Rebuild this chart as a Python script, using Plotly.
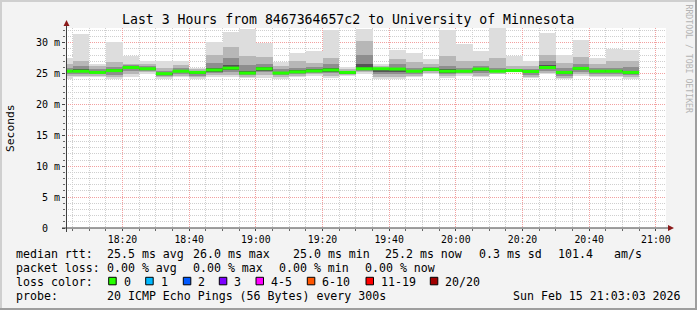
import plotly.graph_objects as go
import pandas as pd

# ---------------- data (milliseconds) ----------------
interval_end = list(pd.date_range("2026-02-15 18:05", "2026-02-15 20:55", freq="5min"))

rtt_max = [27.6, 31.5, 26.5, 30.2, 27.9, 27.0, 27.1, 27.0, 26.0, 30.1,
           31.7, 32.3, 30.0, 26.9, 28.3, 28.75, 32.1, 26.1, 32.3, 26.5,
           28.85, 28.3, 27.3, 32.1, 29.85, 28.6, 32.4, 27.9, 27.0, 31.6,
           28.0, 30.4, 27.6, 29.0, 28.9]
rtt_p90 = [26.6, 27.0, 26.2, 26.9, 26.6, 26.5, 26.0, 26.4, 25.8, 28.1,
           29.4, 27.8, 27.7, 26.2, 27.0, 26.8, 27.6, 25.8, 30.3, 26.2,
           27.3, 26.9, 26.5, 27.8, 27.0, 27.0, 27.5, 26.3, 26.2, 28.0,
           26.8, 27.7, 26.5, 27.0, 27.0]
rtt_p75 = [26.0, 26.2, 25.8, 26.1, 26.4, 26.2, 25.5, 25.9, 25.5, 26.8,
           27.5, 26.4, 26.6, 25.7, 26.0, 26.1, 26.5, 25.5, 28.0, 26.0,
           26.5, 26.0, 26.1, 26.3, 26.0, 26.3, 26.0, 25.8, 25.8, 27.0,
           25.9, 26.6, 25.9, 26.0, 26.1]
rtt_p60 = [25.6, 25.7, 25.4, 25.7, 26.2, 25.95, 25.15, 25.6, 25.35, 26.0,
           26.4, 25.5, 26.1, 25.3, 25.55, 25.7, 25.9, 25.35, 26.6, 25.9,
           26.0, 25.6, 25.85, 25.7, 25.6, 25.95, 25.6, 25.6, 25.5, 26.4,
           25.45, 26.1, 25.6, 25.65, 25.5]
rtt_median = [25.4, 25.4, 25.2, 25.5, 26.0, 25.8, 25.0, 25.4, 25.2, 25.6,
              25.9, 25.1, 25.8, 25.1, 25.3, 25.45, 25.6, 25.2, 25.8, 25.8,
              25.75, 25.4, 25.7, 25.4, 25.4, 25.75, 25.4, 25.5, 25.35, 26.0,
              25.2, 25.85, 25.4, 25.4, 25.2]
rtt_p40 = [25.2, 25.2, 25.05, 25.2, 25.8, 25.65, 24.8, 25.2, 24.95, 25.35,
           25.55, 24.95, 25.5, 24.95, 25.1, 25.3, 25.35, 25.05, 25.65, 25.3,
           25.3, 25.2, 25.55, 25.15, 25.25, 25.45, 25.3, 25.4, 25.05, 25.7,
           24.9, 25.55, 25.2, 25.2, 25.0]
rtt_p25 = [25.0, 25.0, 24.9, 24.8, 25.5, 25.5, 24.6, 25.0, 24.7, 25.1,
           25.2, 24.8, 25.2, 24.8, 24.9, 25.1, 25.1, 24.9, 25.5, 24.9,
           24.9, 25.0, 25.4, 24.9, 25.1, 25.1, 25.2, 25.3, 24.8, 25.4,
           24.6, 25.3, 25.0, 25.0, 24.8]
rtt_p10 = [24.7, 24.7, 24.6, 24.5, 24.9, 25.2, 24.4, 24.7, 24.4, 24.8,
           24.8, 24.5, 24.8, 24.5, 24.6, 24.9, 24.7, 24.8, 25.2, 24.5,
           24.5, 24.7, 25.1, 24.6, 24.9, 24.7, 25.0, 25.25, 24.5, 25.1,
           24.3, 25.0, 24.7, 24.7, 24.5]
rtt_min = [24.2, 24.4, 24.4, 24.2, 24.4, 24.9, 24.2, 24.4, 24.1, 24.5,
           24.4, 24.3, 24.3, 24.2, 24.4, 24.7, 24.3, 24.7, 24.9, 24.2,
           24.1, 24.5, 24.9, 24.3, 24.7, 24.4, 24.9, 25.2, 24.3, 24.9,
           24.1, 24.7, 24.4, 24.5, 24.2]

x_tickvals = ["2026-02-15 18:20", "2026-02-15 18:40", "2026-02-15 19:00",
              "2026-02-15 19:20", "2026-02-15 19:40", "2026-02-15 20:00",
              "2026-02-15 20:20", "2026-02-15 20:40", "2026-02-15 21:00"]
x_ticktext = ["18:20", "18:40", "19:00", "19:20", "19:40", "20:00", "20:20", "20:40", "21:00"]
y_tickvals = [0, 5, 10, 15, 20, 25, 30]
y_ticktext = ["0\u00a0\u00a0", "5 m", "10 m", "15 m", "20 m", "25 m", "30 m"]

title_text = "Last 3 Hours from 8467364657c2 to University of Minnesota"
median_stats = ["median rtt:", "25.5 ms avg", "26.0 ms max", "25.0 ms min",
                "25.2 ms now", "0.3 ms sd", "101.4", "am/s"]
loss_stats = ["packet loss:", "0.00 % avg", "0.00 % max", "0.00 % min", "0.00 % now"]
loss_labels = ["0", "1", "2", "3", "4-5", "6-10", "11-19", "20/20"]
loss_colors = ["#26ff00", "#00b8ff", "#0059ff", "#7e00ff", "#ff00ff", "#ff5500", "#ff0000", "#a10000"]
probe_text = "20 ICMP Echo Pings (56 Bytes) every 300s"
stamp_text = "Sun Feb 15 21:03:03 2026"

# ---------------- layout geometry ----------------
W, H = 697, 310
ML, MR, MT, MB = 66, 31, 28, 82
PW, PH = W - ML - MR, H - MT - MB
BOT = MT + PH


def px(x):
    return (x - ML) / PW


def py(y):
    return (BOT - y) / PH


MONO = "DejaVu Sans Mono"
step = pd.Timedelta("5min")
centers = [t - step / 2 for t in interval_end]
starts = [t - step for t in interval_end]

fig = go.Figure()

bands = [(rtt_min, rtt_max, "#dddddd"),
         (rtt_p10, rtt_p90, "#b7b7b7"),
         (rtt_p25, rtt_p75, "#8e8e8e"),
         (rtt_p40, rtt_p60, "#555555")]
for lo, hi, col in bands:
    fig.add_trace(go.Bar(
        x=centers, y=[h - l for l, h in zip(lo, hi)], base=lo,
        width=300000, marker=dict(color=col, line=dict(width=0)),
        showlegend=False, hoverinfo="skip"))

mx, my = [], []
for s, e, m in zip(starts, interval_end, rtt_median):
    mx += [s, e, None]
    my += [m, m, None]
fig.add_trace(go.Scatter(x=mx, y=my, mode="lines",
                         line=dict(color="#26ff00", width=3),
                         showlegend=False, hoverinfo="skip"))

fig.update_layout(
    width=W, height=H,
    margin=dict(l=ML, r=MR, t=MT, b=MB, pad=0),
    paper_bgcolor="#f3f3f3", plot_bgcolor="#ffffff",
    barmode="overlay", bargap=0,
    font=dict(family=MONO, size=10, color="#000000"),
    showlegend=False,
)

fig.update_xaxes(
    type="date",
    range=["2026-02-15 18:03:03", "2026-02-15 21:03:03"],
    tickmode="array", tickvals=x_tickvals, ticktext=x_ticktext,
    tickfont=dict(family=MONO, size=9.8, color="#000000"),
    showgrid=True, gridcolor="#f2a0a0", griddash="1px,1px", gridwidth=1,
    ticks="outside", ticklen=2, tickcolor="#444444",
    minor=dict(tickmode="linear", tick0="2026-02-15 18:00", dtick=300000,
               showgrid=True, gridcolor="#cfcfcf", griddash="1px,1px",
               ticks="outside", ticklen=2, tickcolor="#666666"),
    showline=False, zeroline=False,
)
fig.update_yaxes(
    range=[0, 32.4],
    tickmode="array", tickvals=y_tickvals, ticktext=y_ticktext,
    tickfont=dict(family=MONO, size=10, color="#000000"),
    showgrid=True, gridcolor="#f2a0a0", griddash="1px,1px", gridwidth=1,
    ticks="outside", ticklen=3, tickcolor="#444444",
    minor=dict(tickmode="linear", tick0=0, dtick=1,
               showgrid=True, gridcolor="#cfcfcf", griddash="1px,1px",
               ticks="outside", ticklen=2, tickcolor="#666666"),
    showline=False, zeroline=False,
)

shapes = []
# axis lines and arrows
shapes.append(dict(type="line", xref="paper", yref="paper",
                   x0=px(66.5), x1=px(66.5), y0=py(232), y1=py(23),
                   line=dict(color="#404040", width=1)))
shapes.append(dict(type="line", xref="paper", yref="paper",
                   x0=px(62), x1=px(671), y0=py(228), y1=py(228),
                   line=dict(color="#404040", width=1)))
shapes.append(dict(type="path", xref="paper", yref="paper",
                   path=f"M {px(63.5)} {py(26)} L {px(69.5)} {py(26)} L {px(66.5)} {py(20)} Z",
                   fillcolor="#8b1a1a", line=dict(width=0)))
shapes.append(dict(type="path", xref="paper", yref="paper",
                   path=f"M {px(668)} {py(225)} L {px(668)} {py(231)} L {px(674)} {py(228)} Z",
                   fillcolor="#8b1a1a", line=dict(width=0)))
# frame shading
shapes.append(dict(type="rect", xref="paper", yref="paper",
                   x0=px(0), x1=px(W), y0=py(0), y1=py(2),
                   fillcolor="#cfcfcf", line=dict(width=0)))
shapes.append(dict(type="rect", xref="paper", yref="paper",
                   x0=px(0), x1=px(2), y0=py(0), y1=py(H),
                   fillcolor="#cfcfcf", line=dict(width=0)))
shapes.append(dict(type="rect", xref="paper", yref="paper",
                   x0=px(0), x1=px(W), y0=py(H - 2), y1=py(H),
                   fillcolor="#9e9e9e", line=dict(width=0)))
shapes.append(dict(type="rect", xref="paper", yref="paper",
                   x0=px(W - 2), x1=px(W), y0=py(0), y1=py(H),
                   fillcolor="#9e9e9e", line=dict(width=0)))

ann = []


def text(x, y, s, size=11.6, anchor="left", color="#000000", angle=0):
    ann.append(dict(x=px(x), y=py(y), xref="paper", yref="paper", text=s,
                    showarrow=False, xanchor=anchor, yanchor="middle",
                    textangle=angle, borderpad=0, borderwidth=0,
                    font=dict(family=MONO, size=size, color=color)))


text(348.5, 19, title_text, size=13.2, anchor="center")
text(10, 128, "Seconds", size=11.3, anchor="center", angle=-90)
text(688.5, 59, "RRDTOOL / TOBI OETIKER", size=8.2, anchor="center",
     color="#b4b4b4", angle=90)

row_y = [253.5, 268, 282, 296]
med_x = [16, 107, 193, 292.5, 385, 479, 557.5, 613.5]
for xx, s in zip(med_x, median_stats):
    text(xx, row_y[0], s)
loss_x = [16, 107, 193, 279, 365]
for xx, s in zip(loss_x, loss_stats):
    text(xx, row_y[1], s)
text(16, row_y[2], "loss color:")
box_x = [108.7, 145.7, 183.3, 219.3, 256, 307.3, 366, 430.3]
for bx, lab, col in zip(box_x, loss_labels, loss_colors):
    shapes.append(dict(type="rect", xref="paper", yref="paper",
                       x0=px(bx), x1=px(bx + 7.5), y0=py(284.8), y1=py(277.3),
                       fillcolor=col, line=dict(color="#000000", width=1)))
    text(bx + 15, row_y[2], lab)
text(16, row_y[3], "probe:")
text(107, row_y[3], probe_text)
text(680.5, row_y[3], stamp_text, anchor="right")

fig.update_layout(shapes=shapes, annotations=ann)
fig.write_html("out.html")
